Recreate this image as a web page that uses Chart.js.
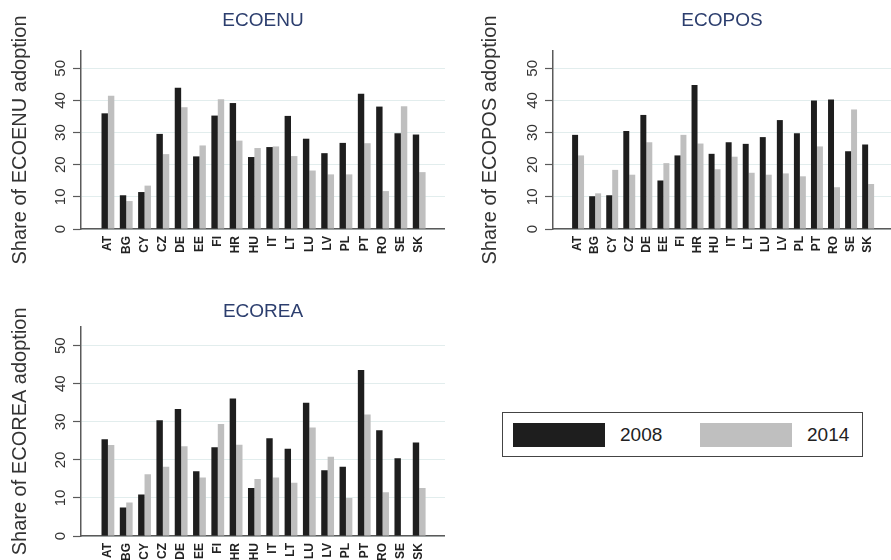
<!DOCTYPE html>
<html>
<head>
<meta charset="utf-8">
<script src="https://cdn.jsdelivr.net/npm/chart.js@4.4.1/dist/chart.umd.min.js"></script>
<style>
  body { margin:0; background:#fff; width:891px; height:560px; overflow:hidden; position:relative;
         font-family:"Liberation Sans", Arial, sans-serif; }
  canvas { position:absolute; }
  #legend { position:absolute; left:502px; top:412px; width:361px; height:45px; box-sizing:border-box;
            border:1.5px solid #444; }
  #legend .sw { position:absolute; top:10px; width:92px; height:24px; }
  #legend .lb { position:absolute; top:10px; line-height:24px; font-size:19px; color:#222; }
</style>
</head>
<body>
<canvas id="c1" width="445" height="280" style="left:0;top:0"></canvas>
<canvas id="c2" width="446" height="280" style="left:445px;top:0"></canvas>
<canvas id="c3" width="445" height="280" style="left:0;top:280px"></canvas>
<div id="legend"></div>
<script>
  // ---------- data ----------
  const countries = ['AT','BG','CY','CZ','DE','EE','FI','HR','HU','IT','LT','LU','LV','PL','PT','RO','SE','SK'];
  const years = ['2008','2014'];
  const yTicks = [0,10,20,30,40,50];

  const ecoenu2008 = [36.0,10.5,11.5,29.6,44.0,22.6,35.3,39.2,22.4,25.5,35.2,28.1,23.6,26.8,42.1,38.1,29.8,29.4];
  const ecoenu2014 = [41.5,8.7,13.5,23.3,37.9,26.0,40.4,27.5,25.2,25.7,22.7,18.2,17.0,17.0,26.7,11.8,38.2,17.7];
  const ecopos2008 = [29.3,10.2,10.5,30.5,35.5,15.1,22.9,44.8,23.4,27.0,26.5,28.6,33.9,29.8,40.0,40.3,24.2,26.3];
  const ecopos2014 = [22.9,11.1,18.4,16.9,27.0,20.5,29.3,26.6,18.6,22.5,17.5,16.9,17.3,16.4,25.7,13.0,37.2,14.0];
  const ecorea2008 = [25.4,7.5,10.9,30.4,33.4,17.0,23.3,36.1,12.6,25.7,22.9,35.0,17.3,18.2,43.6,27.8,20.4,24.6];
  const ecorea2014 = [23.9,8.8,16.2,18.2,23.6,15.4,29.4,24.0,15.0,15.4,14.0,28.5,20.8,10.0,31.9,11.5,null,12.6];

  // ---------- style ----------
  const FONT = '"Liberation Sans", Arial, sans-serif';
  const AXIS = '#5a5a5a';
  const colors = ['#1e1e1e', '#bfbfbf'];

  function drawPanel(id, title, v08, v14, o){
    const mk = (vals, k) => ({
      label: years[k],
      data: vals.map((v, i) => ({x: i, y: v})),
      backgroundColor: colors[k],
      categoryPercentage: 0.7,
      barPercentage: 1
    });
    return new Chart(document.getElementById(id), {
      type: 'bar',
      data: { datasets: [mk(v08, 0), mk(v14, 1)] },
      options: {
        responsive: false, animation: false, devicePixelRatio: 1,
        layout: { padding: { left: o.padLeft, right: 0, top: 0, bottom: 0 } },
        plugins: {
          legend: { display: false },
          tooltip: { enabled: false },
          title: { display: true, text: title, fullSize: false, color: '#2c3e6e',
                   font: { family: FONT, size: 19, weight: 'normal' },
                   padding: { top: o.titleTop, bottom: o.titleBottom } }
        },
        scales: {
          x: {
            type: 'linear', min: -1.47, max: o.xMax, offset: false,
            grid: { display: false, drawTicks: false },
            border: { color: AXIS, width: 1.5 },
            afterBuildTicks: s => { s.ticks = countries.map((_, i) => ({ value: i })); },
            afterFit: s => { s.height = o.xHeight; },
            ticks: { autoSkip: false, minRotation: 90, maxRotation: 90, padding: 7, color: '#222',
                     font: { family: FONT, size: 12, weight: 'bold' },
                     callback: v => countries[v] }
          },
          y: {
            min: 0, max: o.yMax,
            afterBuildTicks: s => { s.ticks = yTicks.map(v => ({ value: v })); },
            afterFit: s => { s.width = o.yWidth; },
            grid: { color: '#e2eded', tickColor: AXIS, tickLength: 8, tickWidth: 1.2 },
            border: { color: AXIS, width: 1.5 },
            ticks: { minRotation: 90, maxRotation: 90, crossAlign: 'center', padding: 4, color: '#333',
                     font: { family: FONT, size: 15 } },
            title: { display: true, text: 'Share of ' + title + ' adoption', color: '#333',
                     font: { family: FONT, size: 20 }, padding: { top: 8.5, bottom: 0 } }
          }
        }
      }
    });
  }

  drawPanel('c1', 'ECOENU', ecoenu2008, ecoenu2014,
    { padLeft: 0, yWidth: 81, xHeight: 51, yMax: 55.4, xMax: 18.41, titleTop: 9.6, titleBottom: 18.6 });
  drawPanel('c2', 'ECOPOS', ecopos2008, ecopos2014,
    { padLeft: 25, yWidth: 83, xHeight: 51, yMax: 55.4, xMax: 18.34, titleTop: 9.6, titleBottom: 18.6 });
  drawPanel('c3', 'ECOREA', ecorea2008, ecorea2014,
    { padLeft: 0, yWidth: 81, xHeight: 24, yMax: 55.0, xMax: 18.41, titleTop: 20.6, titleBottom: 3.3 });

  // ---------- legend ----------
  const legend = document.getElementById('legend');
  [[10, 117], [197, 304]].forEach(([sx, tx], k) => {
    const sw = document.createElement('div');
    sw.className = 'sw'; sw.style.left = sx + 'px'; sw.style.background = colors[k];
    const lb = document.createElement('div');
    lb.className = 'lb'; lb.style.left = tx + 'px'; lb.textContent = years[k];
    legend.appendChild(sw); legend.appendChild(lb);
  });
</script>
</body>
</html>
